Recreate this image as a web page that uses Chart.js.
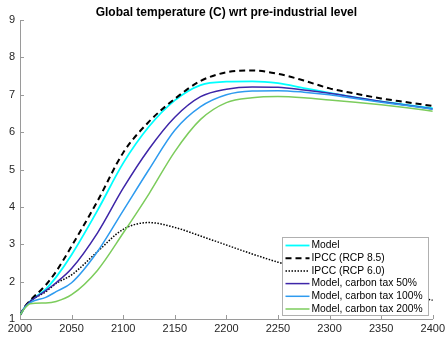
<!DOCTYPE html>
<html lang="en">
<head>
<meta charset="UTF-8">
<script src="https://cdn.jsdelivr.net/npm/chart.js"></script>
<title>Global temperature</title>
<style>
  html, body { margin: 0; padding: 0; background: #fff; }
</style>
</head>
<body>
<canvas id="grafico" width="448" height="337"></canvas>
<script>
  // anos e series
  var anos = [2000, 2005, 2010, 2025, 2035, 2050, 2075, 2100, 2125, 2150, 2175, 2200, 2225, 2250, 2275, 2300, 2325, 2350, 2375, 2400]
  var modelo = [1.1, 1.33, 1.48, 1.8, 2.12, 2.72, 3.9, 5.17, 6.15, 6.85, 7.26, 7.35, 7.36, 7.31, 7.18, 7.05, 6.93, 6.82, 6.73, 6.64]
  var rcp85 = [1.1, 1.34, 1.5, 1.91, 2.27, 2.95, 4.15, 5.45, 6.28, 6.89, 7.37, 7.6, 7.65, 7.56, 7.38, 7.17, 7.03, 6.9, 6.8, 6.7]
  var rcp60 = [1.1, 1.33, 1.48, 1.73, 1.95, 2.18, 2.8, 3.4, 3.58, 3.45, 3.22, 2.98, 2.74, 2.52, 2.33, 2.16, 1.99, 1.82, 1.66, 1.5]
  var taxa50 = [1.1, 1.33, 1.47, 1.76, 1.97, 2.35, 3.3, 4.5, 5.55, 6.4, 6.95, 7.15, 7.21, 7.2, 7.13, 7.04, 6.93, 6.82, 6.72, 6.62]
  var taxa100 = [1.1, 1.32, 1.44, 1.58, 1.73, 1.97, 2.8, 3.9, 5.0, 6.05, 6.68, 7.0, 7.1, 7.11, 7.07, 7.0, 6.9, 6.8, 6.71, 6.61]
  var taxa200 = [1.1, 1.3, 1.41, 1.43, 1.47, 1.65, 2.3, 3.3, 4.35, 5.48, 6.34, 6.79, 6.92, 6.95, 6.92, 6.86, 6.8, 6.73, 6.65, 6.56]

  var ticksX = [2000, 2050, 2100, 2150, 2200, 2250, 2300, 2350, 2400]
  var ticksY = [1, 2, 3, 4, 5, 6, 7, 8, 9]
  var titulo = "Global temperature (C) wrt pre-industrial level"

  var fonte = '"Liberation Sans", Arial, Helvetica, sans-serif'
  var corEixo = "#9a9a9a"

  function pontos(serie) {
    return anos.map(function (a, i) { return { x: a, y: serie[i] } })
  }

  // titulo, marcas de escala para dentro e legenda dentro do grafico
  var extras = {
    id: "extras",
    afterDraw: function (chart) {
      var ctx = chart.ctx
      var area = chart.chartArea
      var sx = chart.scales.x
      var sy = chart.scales.y
      ctx.save()

      ctx.fillStyle = "#000"
      ctx.font = "bold 12px " + fonte
      ctx.textAlign = "center"
      ctx.textBaseline = "middle"
      ctx.fillText(titulo, (area.left + area.right) / 2, 12.5)

      ctx.strokeStyle = corEixo
      ctx.lineWidth = 1
      ctx.beginPath()
      ticksY.forEach(function (v) {
        var py = Math.round(sy.getPixelForValue(v)) + 0.5
        ctx.moveTo(area.left, py)
        ctx.lineTo(area.left + 4, py)
      })
      ticksX.forEach(function (v) {
        var px = Math.round(sx.getPixelForValue(v)) + 0.5
        ctx.moveTo(px, area.bottom)
        ctx.lineTo(px, area.bottom - 4)
      })
      ctx.stroke()

      // legenda
      var ds = chart.data.datasets
      var w = 146, lh = 12.7
      var h = 78
      var x0 = Math.round(area.right - 5 - w) + 0.5
      var y0 = Math.round(area.bottom - 4 - h) + 0.5
      ctx.fillStyle = "#fff"
      ctx.fillRect(x0, y0, w, h)
      ctx.strokeStyle = "#b0b0b0"
      ctx.lineWidth = 1
      ctx.strokeRect(x0, y0, w, h)
      ctx.font = "10.3px " + fonte
      ctx.textAlign = "left"
      ctx.textBaseline = "middle"
      for (var i = 0; i < ds.length; i++) {
        var yy = y0 + 8 + i * lh
        ctx.beginPath()
        ctx.strokeStyle = ds[i].borderColor
        ctx.lineWidth = ds[i].borderWidth
        ctx.setLineDash(ds[i].borderDash || [])
        ctx.moveTo(x0 + 3, yy)
        ctx.lineTo(x0 + 27, yy)
        ctx.stroke()
        ctx.setLineDash([])
        ctx.fillStyle = "#000"
        ctx.fillText(ds[i].label, x0 + 29, yy)
      }
      ctx.restore()
    }
  }

  const ctx = document.getElementById("grafico")
  var grafico = new Chart(ctx, {
    type: "line",
    data: {
      datasets: [
        { label: "Model", data: pontos(modelo), borderColor: "#00ffff", borderWidth: 1.8, order: 6 },
        { label: "IPCC (RCP 8.5)", data: pontos(rcp85), borderColor: "#000000", borderWidth: 2, borderDash: [6, 4], order: 5 },
        { label: "IPCC (RCP 6.0)", data: pontos(rcp60), borderColor: "#000000", borderWidth: 1.5, borderDash: [1.5, 1.5], order: 4 },
        { label: "Model, carbon tax 50%", data: pontos(taxa50), borderColor: "#3e26a8", borderWidth: 1.5, order: 3 },
        { label: "Model, carbon tax 100%", data: pontos(taxa100), borderColor: "#2e9bef", borderWidth: 1.5, order: 2 },
        { label: "Model, carbon tax 200%", data: pontos(taxa200), borderColor: "#7ccc5c", borderWidth: 1.5, order: 1 }
      ]
    },
    options: {
      responsive: false,
      animation: false,
      layout: { padding: { left: 0, right: 15, top: 20, bottom: 0 } },
      elements: {
        point: { radius: 0 },
        line: { cubicInterpolationMode: "monotone", fill: false }
      },
      plugins: {
        legend: { display: false },
        title: { display: false },
        tooltip: { enabled: false }
      },
      scales: {
        x: {
          type: "linear",
          min: 2000,
          max: 2400,
          afterBuildTicks: function (s) { s.ticks = ticksX.map(function (v) { return { value: v } }) },
          ticks: { color: "#262626", font: { size: 11, family: fonte }, padding: 3, maxRotation: 0, callback: function (v) { return String(v) } },
          grid: { display: false, drawTicks: false },
          border: { display: true, color: corEixo },
          afterFit: function (s) { s.height = 18 }
        },
        y: {
          min: 1,
          max: 9,
          afterBuildTicks: function (s) { s.ticks = ticksY.map(function (v) { return { value: v } }) },
          ticks: { color: "#262626", font: { size: 11, family: fonte }, padding: 5 },
          grid: { display: false, drawTicks: false },
          border: { display: true, color: corEixo },
          afterFit: function (s) { s.width = 20 }
        }
      }
    },
    plugins: [extras]
  })
</script>
</body>
</html>
